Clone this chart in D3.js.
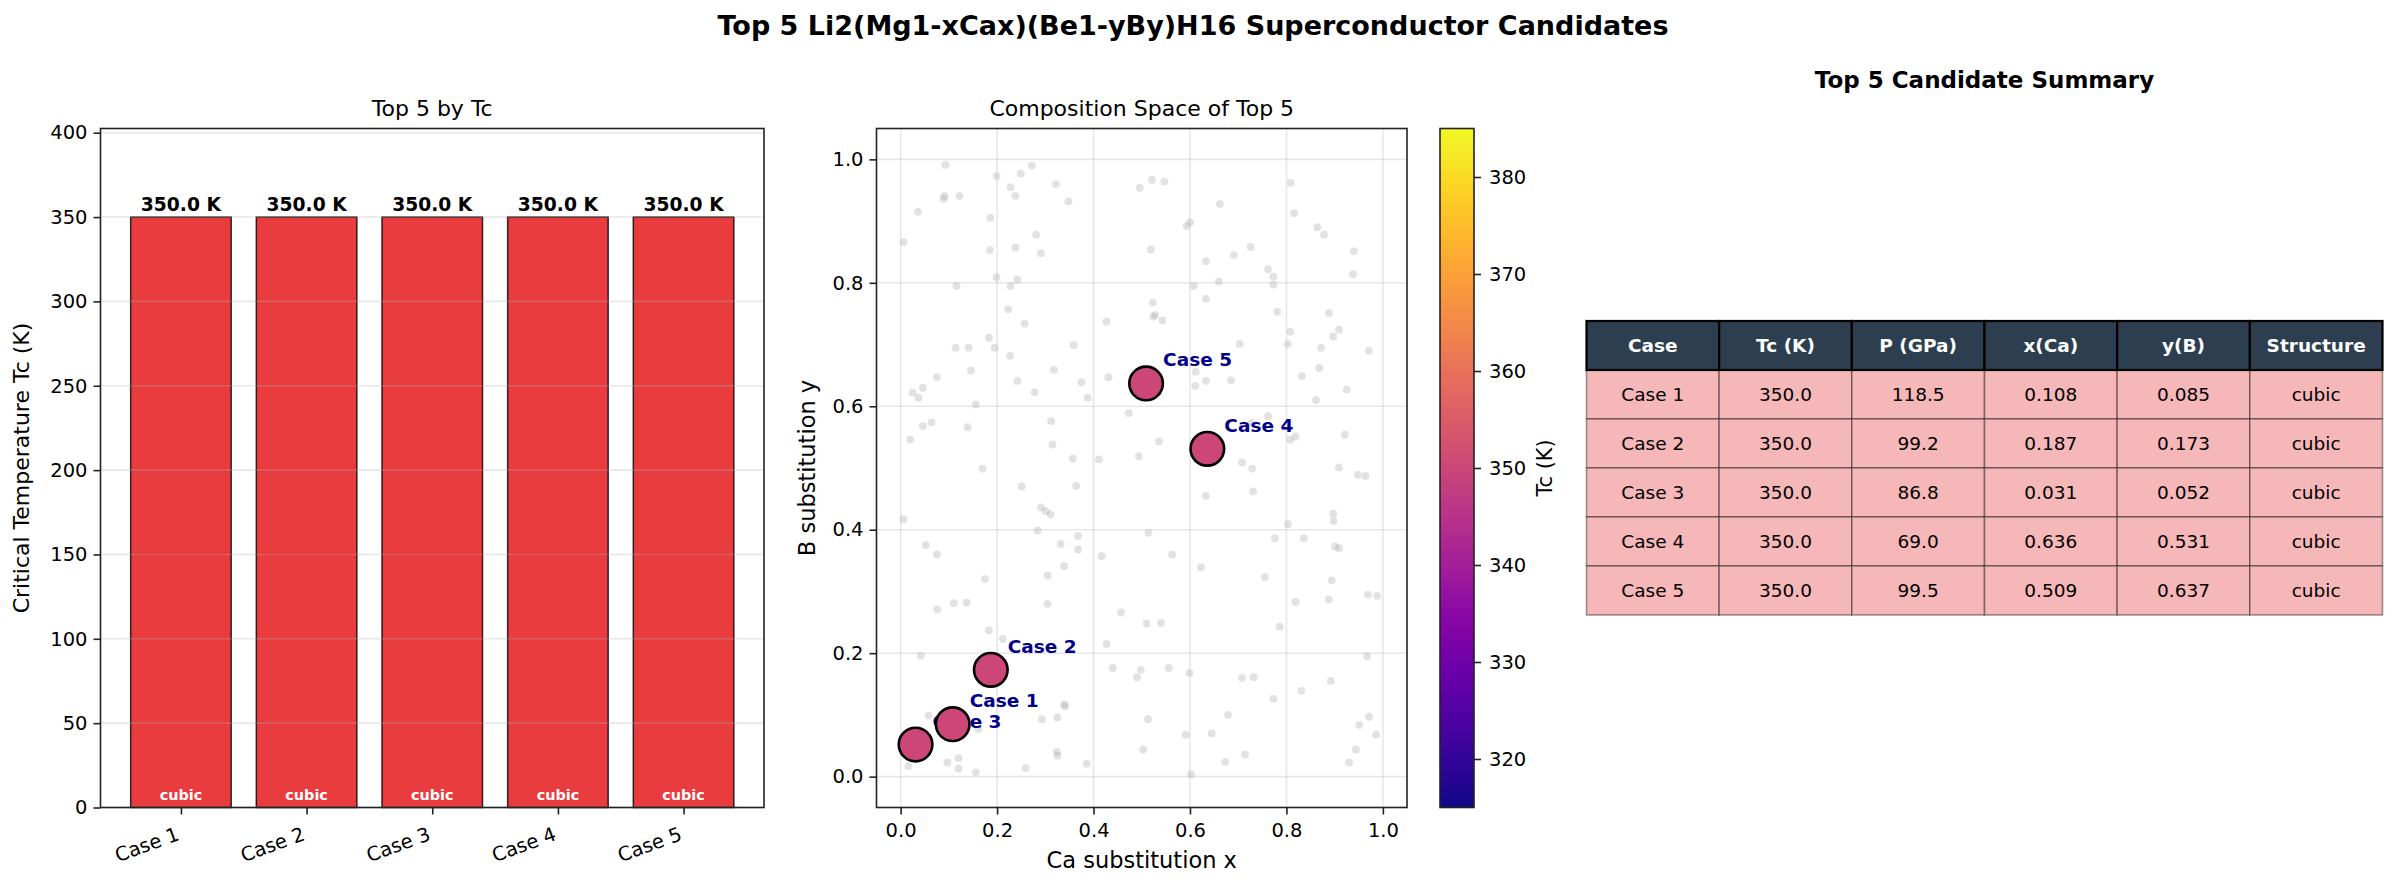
<!DOCTYPE html>
<html>
<head>
<meta charset="utf-8">
<script src="https://d3js.org/d3.v7.min.js"></script>
<style>
  body { margin: 0; background: #fff; }
  text { font-family: 'DejaVu Sans', sans-serif; fill: #000; }
</style>
</head>
<body>
<script>
// top 5 candidates
let cases = ['Case 1', 'Case 2', 'Case 3', 'Case 4', 'Case 5']
let tcValues = [350.0, 350.0, 350.0, 350.0, 350.0]
let pressures = [118.5, 99.2, 86.8, 69.0, 99.5]
let xCa = [0.108, 0.187, 0.031, 0.636, 0.509]
let yB = [0.085, 0.173, 0.052, 0.531, 0.637]
let structures = ['cubic', 'cubic', 'cubic', 'cubic', 'cubic']

// all other sampled compositions (grey background points)
let bgX = [0.093,0.272,0.199,0.249,0.322,0.228,0.238,0.091,0.089,0.122,0.036,0.186,0.348,0.496,0.521,0.547,0.662,0.809,0.816,0.600,
  0.593,0.864,0.878,0.006,0.281,0.185,0.238,0.291,0.519,0.726,0.691,0.940,0.633,0.660,0.762,0.773,0.773,0.938,0.199,0.242,
  0.228,0.116,0.608,0.633,0.523,0.528,0.524,0.543,0.781,0.888,0.223,0.257,0.427,0.909,0.897,0.808,0.803,0.703,0.872,0.971,
  0.183,0.114,0.141,0.195,0.359,0.227,0.868,0.832,0.318,0.431,0.146,0.075,0.242,0.375,0.612,0.633,0.611,0.685,0.925,0.861,
  0.046,0.025,0.037,0.278,0.388,0.156,0.473,0.046,0.064,0.139,0.312,0.762,0.728,0.921,0.808,0.819,0.020,0.536,0.315,0.357,
  0.411,0.494,0.708,0.729,0.909,0.948,0.964,0.170,0.251,0.364,0.633,0.731,0.291,0.301,0.311,0.006,0.897,
  0.898,0.803,0.284,0.514,0.368,0.776,0.836,0.052,0.332,0.368,0.901,0.909,0.075,0.417,0.563,0.339,0.623,0.755,0.175,0.894,
  0.305,0.969,0.988,0.888,0.819,0.110,0.137,0.305,0.076,0.457,0.510,0.540,0.786,0.183,0.212,0.427,0.042,0.967,0.440,0.498,
  0.556,0.599,0.490,0.708,0.732,0.892,0.831,0.773,0.339,0.341,0.679,0.058,0.293,0.325,0.513,0.971,0.951,0.161,0.591,0.645,
  0.986,0.503,0.944,0.324,0.325,0.714,0.120,0.097,0.673,0.930,0.386,0.016,0.120,0.259,0.156,0.602]
let bgY = [0.991,0.990,0.973,0.977,0.960,0.955,0.941,0.941,0.936,0.941,0.915,0.905,0.932,0.954,0.967,0.964,0.928,0.962,0.913,0.898,
  0.892,0.890,0.878,0.866,0.878,0.853,0.857,0.848,0.854,0.858,0.845,0.851,0.835,0.802,0.822,0.810,0.797,0.814,0.809,0.805,
  0.795,0.795,0.795,0.774,0.768,0.748,0.745,0.739,0.753,0.751,0.757,0.734,0.737,0.724,0.713,0.721,0.701,0.701,0.695,0.690,
  0.711,0.695,0.695,0.695,0.699,0.682,0.662,0.649,0.659,0.647,0.658,0.647,0.641,0.639,0.656,0.641,0.633,0.642,0.627,0.610,
  0.630,0.622,0.614,0.623,0.614,0.603,0.589,0.568,0.574,0.566,0.576,0.584,0.573,0.554,0.546,0.551,0.546,0.543,0.538,0.515,
  0.514,0.519,0.509,0.499,0.501,0.489,0.487,0.499,0.470,0.471,0.455,0.462,0.436,0.430,0.425,0.417,0.426,
  0.414,0.409,0.399,0.395,0.390,0.386,0.386,0.375,0.377,0.368,0.373,0.370,0.360,0.357,0.360,0.341,0.339,0.323,0.320,0.318,
  0.326,0.295,0.293,0.287,0.283,0.281,0.282,0.280,0.271,0.266,0.248,0.249,0.243,0.237,0.223,0.215,0.196,0.195,0.176,0.173,
  0.176,0.168,0.161,0.160,0.161,0.155,0.139,0.126,0.117,0.114,0.100,0.099,0.093,0.096,0.093,0.097,0.084,0.077,0.068,0.070,
  0.068,0.044,0.044,0.040,0.034,0.036,0.030,0.023,0.024,0.023,0.021,0.017,0.013,0.014,0.007,0.004]

let tcTicks = [0, 50, 100, 150, 200, 250, 300, 350, 400]
let compTicks = [0, 0.2, 0.4, 0.6, 0.8, 1.0]
let cbarTicks = [320, 330, 340, 350, 360, 370, 380]
let tableHeaders = ['Case', 'Tc (K)', 'P (GPa)', 'x(Ca)', 'y(B)', 'Structure']

let width = 2397
let height = 889
let plotTop = 128.5
let plotBottom = 807.5

let svg = d3.select('body').append('svg')
  .attr('width', width)
  .attr('height', height)
  .style('background', '#fff')

let styleAxis = (g) => {
  g.select('.domain').remove()
  g.selectAll('.tick line').attr('stroke', '#222').attr('stroke-width', 1.6)
  g.selectAll('.tick text').attr('font-size', 19.5).attr('font-family', 'DejaVu Sans').attr('fill', '#000')
}

// suptitle
svg.append('text')
  .attr('x', 1193).attr('y', 35)
  .attr('text-anchor', 'middle')
  .attr('font-size', 27).attr('font-weight', 'bold')
  .text('Top 5 Li2(Mg1-xCax)(Be1-yBy)H16 Superconductor Candidates')

// ---------- bar chart ----------
let barX = d3.scaleLinear().domain([-0.64, 4.64]).range([100.5, 764])
let barY = d3.scaleLinear().domain([0, 402.5]).range([plotBottom, plotTop])
let barW = barX(0.8) - barX(0)

let bars = svg.append('g')
bars.selectAll('rect.bar')
  .data(tcValues)
  .enter()
  .append('rect')
  .attr('class', 'bar')
  .attr('x', (d, i) => barX(i - 0.4))
  .attr('y', d => barY(d))
  .attr('width', barW)
  .attr('height', d => barY(0) - barY(d))
  .attr('fill', '#e41a1c').attr('fill-opacity', 0.85)
  .attr('stroke', '#000').attr('stroke-opacity', 0.8).attr('stroke-width', 1.5)

bars.selectAll('line.grid')
  .data(tcTicks)
  .enter()
  .append('line')
  .attr('x1', barX.range()[0]).attr('x2', barX.range()[1])
  .attr('y1', d => barY(d)).attr('y2', d => barY(d))
  .attr('stroke', '#b0b0b0').attr('stroke-opacity', 0.3).attr('stroke-width', 1.6)

bars.selectAll('text.val')
  .data(tcValues)
  .enter()
  .append('text')
  .attr('x', (d, i) => barX(i))
  .attr('y', d => barY(d) - 6)
  .attr('text-anchor', 'middle')
  .attr('font-size', 18.7).attr('font-weight', 'bold')
  .text(d => d.toFixed(1) + ' K')

bars.selectAll('text.struct')
  .data(structures)
  .enter()
  .append('text')
  .attr('x', (d, i) => barX(i))
  .attr('y', barY(0) - 7.5)
  .attr('text-anchor', 'middle')
  .attr('font-size', 14.4).attr('font-weight', 'bold')
  .style('fill', '#fff')
  .text(d => d)

svg.append('g')
  .attr('transform', `translate(${barX.range()[0]},0)`)
  .call(d3.axisLeft(barY).tickValues(tcTicks).tickSize(7).tickPadding(6))
  .call(styleAxis)

let barXAxis = svg.append('g')
  .attr('transform', `translate(0,${plotBottom})`)
  .call(d3.axisBottom(barX).tickValues([0, 1, 2, 3, 4]).tickFormat(i => cases[i]).tickSize(7))
  .call(styleAxis)
barXAxis.selectAll('.tick text')
  .attr('x', null).attr('y', null).attr('dy', null)
  .attr('text-anchor', 'end')
  .attr('transform', 'translate(-1,32) rotate(-20)')

svg.append('rect')
  .attr('x', barX.range()[0]).attr('y', plotTop)
  .attr('width', barX.range()[1] - barX.range()[0]).attr('height', plotBottom - plotTop)
  .attr('fill', 'none').attr('stroke', '#222').attr('stroke-width', 1.6)

svg.append('text')
  .attr('x', (barX.range()[0] + barX.range()[1]) / 2).attr('y', 116)
  .attr('text-anchor', 'middle').attr('font-size', 22)
  .text('Top 5 by Tc')

svg.append('text')
  .attr('transform', `translate(29,${(plotTop + plotBottom) / 2}) rotate(-90)`)
  .attr('text-anchor', 'middle').attr('font-size', 22)
  .text('Critical Temperature Tc (K)')

// ---------- composition scatter ----------
let sx = d3.scaleLinear().domain([-0.05, 1.05]).range([876.5, 1407])
let sy = d3.scaleLinear().domain([-0.05, 1.05]).range([plotBottom, plotTop])
let tcColor = d3.scaleSequential(d3.interpolatePlasma).domain([315, 385])

let scatter = svg.append('g')

scatter.selectAll('circle.bg')
  .data(bgX)
  .enter()
  .append('circle')
  .attr('cx', d => sx(d))
  .attr('cy', (d, i) => sy(bgY[i]))
  .attr('r', 3.9)
  .attr('fill', '#a0a0a0').attr('fill-opacity', 0.3)

scatter.selectAll('line.gx')
  .data(compTicks)
  .enter()
  .append('line')
  .attr('x1', d => sx(d)).attr('x2', d => sx(d))
  .attr('y1', plotTop).attr('y2', plotBottom)
  .attr('stroke', '#b0b0b0').attr('stroke-opacity', 0.3).attr('stroke-width', 1.6)

scatter.selectAll('line.gy')
  .data(compTicks)
  .enter()
  .append('line')
  .attr('x1', sx.range()[0]).attr('x2', sx.range()[1])
  .attr('y1', d => sy(d)).attr('y2', d => sy(d))
  .attr('stroke', '#b0b0b0').attr('stroke-opacity', 0.3).attr('stroke-width', 1.6)

scatter.selectAll('text.lbl')
  .data(cases)
  .enter()
  .append('text')
  .attr('x', (d, i) => sx(xCa[i]) + 17)
  .attr('y', (d, i) => sy(yB[i]) - 17)
  .attr('font-size', 18.5).attr('font-weight', 'bold')
  .style('fill', '#00008b')
  .text(d => d)

scatter.selectAll('circle.top')
  .data(cases)
  .enter()
  .append('circle')
  .attr('cx', (d, i) => sx(xCa[i]))
  .attr('cy', (d, i) => sy(yB[i]))
  .attr('r', 16.8)
  .attr('fill', (d, i) => tcColor(tcValues[i]))
  .attr('stroke', '#000').attr('stroke-width', 2.6)

svg.append('g')
  .attr('transform', `translate(0,${plotBottom})`)
  .call(d3.axisBottom(sx).tickValues(compTicks).tickFormat(d3.format('.1f')).tickSize(7).tickPadding(9))
  .call(styleAxis)

svg.append('g')
  .attr('transform', `translate(${sx.range()[0]},0)`)
  .call(d3.axisLeft(sy).tickValues(compTicks).tickFormat(d3.format('.1f')).tickSize(7).tickPadding(6))
  .call(styleAxis)

svg.append('rect')
  .attr('x', sx.range()[0]).attr('y', plotTop)
  .attr('width', sx.range()[1] - sx.range()[0]).attr('height', plotBottom - plotTop)
  .attr('fill', 'none').attr('stroke', '#222').attr('stroke-width', 1.6)

svg.append('text')
  .attr('x', (sx.range()[0] + sx.range()[1]) / 2).attr('y', 116)
  .attr('text-anchor', 'middle').attr('font-size', 22)
  .text('Composition Space of Top 5')

svg.append('text')
  .attr('x', (sx.range()[0] + sx.range()[1]) / 2).attr('y', 868)
  .attr('text-anchor', 'middle').attr('font-size', 22.5)
  .text('Ca substitution x')

svg.append('text')
  .attr('transform', `translate(815,${(plotTop + plotBottom) / 2}) rotate(-90)`)
  .attr('text-anchor', 'middle').attr('font-size', 22.5)
  .text('B substitution y')

// ---------- colorbar ----------
let cbY = d3.scaleLinear().domain([315, 385]).range([plotBottom, plotTop])
let cbLeft = 1440
let cbRight = 1474

let grad = svg.append('defs').append('linearGradient')
  .attr('id', 'plasma')
  .attr('x1', 0).attr('y1', 1).attr('x2', 0).attr('y2', 0)
grad.selectAll('stop')
  .data(d3.range(0, 1.0001, 0.02))
  .enter()
  .append('stop')
  .attr('offset', d => d)
  .attr('stop-color', d => d3.interpolatePlasma(d))

svg.append('rect')
  .attr('x', cbLeft).attr('y', plotTop)
  .attr('width', cbRight - cbLeft).attr('height', plotBottom - plotTop)
  .attr('fill', 'url(#plasma)')
  .attr('stroke', '#222').attr('stroke-width', 1.6)

svg.append('g')
  .attr('transform', `translate(${cbRight},0)`)
  .call(d3.axisRight(cbY).tickValues(cbarTicks).tickSize(7).tickPadding(8))
  .call(styleAxis)

svg.append('text')
  .attr('transform', `translate(1552,${(plotTop + plotBottom) / 2}) rotate(-90)`)
  .attr('text-anchor', 'middle').attr('font-size', 20.8)
  .text('Tc (K)')

// ---------- summary table ----------
let colX = d3.scaleLinear().domain([0, 6]).range([1586.5, 2382.5])
let rowY = d3.scaleLinear().domain([0, 6]).range([321, 615])
let colW = colX(1) - colX(0)
let rowH = rowY(1) - rowY(0)

let rows = cases.map((c, i) => [
  c, tcValues[i].toFixed(1), pressures[i].toFixed(1), xCa[i].toFixed(3), yB[i].toFixed(3), structures[i]
])

let table = svg.append('g')

rows.forEach((row, r) => {
  row.forEach((cell, c) => {
    table.append('rect')
      .attr('x', colX(c)).attr('y', rowY(r + 1))
      .attr('width', colW).attr('height', rowH)
      .attr('fill', '#f5b7b8')
      .attr('stroke', '#000').attr('stroke-opacity', 0.38).attr('stroke-width', 1.6)
    table.append('text')
      .attr('x', colX(c) + colW / 2).attr('y', rowY(r + 1) + rowH / 2)
      .attr('text-anchor', 'middle').attr('dominant-baseline', 'central')
      .attr('font-size', 18.5)
      .text(cell)
  })
})

tableHeaders.forEach((h, c) => {
  table.append('rect')
    .attr('x', colX(c)).attr('y', rowY(0))
    .attr('width', colW).attr('height', rowH)
    .attr('fill', '#2c3e50')
    .attr('stroke', '#000').attr('stroke-width', 2.2)
  table.append('text')
    .attr('x', colX(c) + colW / 2).attr('y', rowY(0) + rowH / 2)
    .attr('text-anchor', 'middle').attr('dominant-baseline', 'central')
    .attr('font-size', 18.5).attr('font-weight', 'bold')
    .style('fill', '#fff')
    .text(h)
})

svg.append('text')
  .attr('x', (colX(0) + colX(6)) / 2).attr('y', 88)
  .attr('text-anchor', 'middle')
  .attr('font-size', 23).attr('font-weight', 'bold')
  .text('Top 5 Candidate Summary')
</script>
</body>
</html>
